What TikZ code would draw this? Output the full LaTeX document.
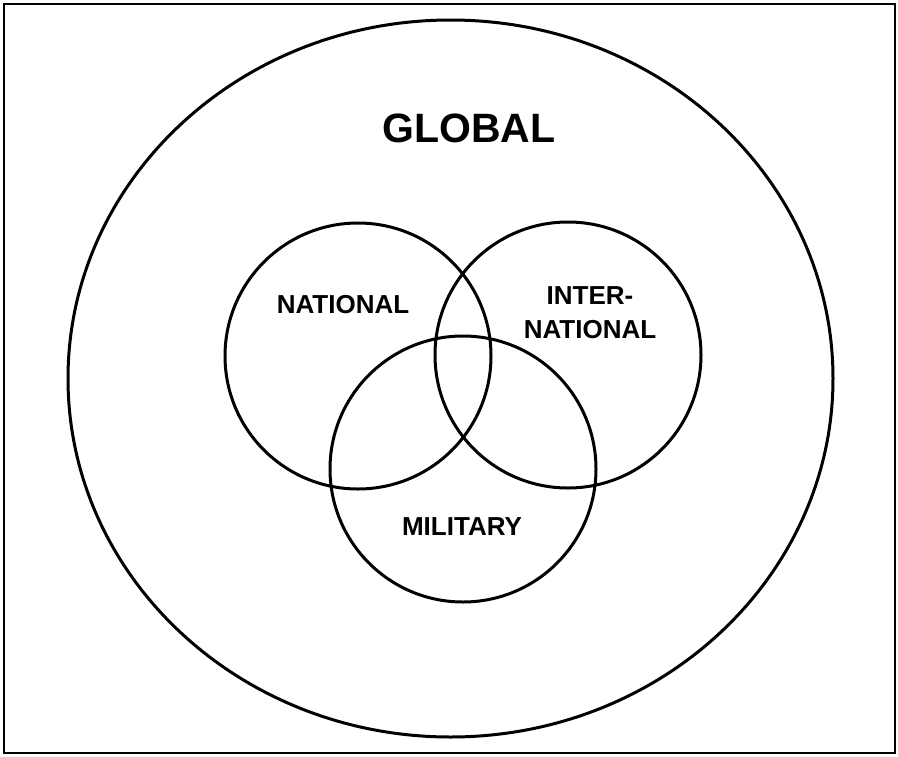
\documentclass[tikz,border=0pt]{standalone}
\usepackage{fontspec}
\setmainfont{Liberation Sans}
\usetikzlibrary{shapes.geometric}
\begin{document}
\begin{tikzpicture}[x=1pt,y=-1pt,
  ring/.style={draw, line width=3pt, inner sep=0pt},
  disc/.style={ring, circle, minimum size=266pt},
  lbl/.style={font=\bfseries\fontsize{26}{34}\selectfont, align=center, inner sep=0pt},
  title/.style={font=\bfseries\fontsize{41}{48}\selectfont, inner sep=0pt}]
\useasboundingbox (0,0) rectangle (898,756);
% frame
\node[draw, line width=2.5pt, inner sep=0pt, minimum width=891pt, minimum height=749pt] (frame) at (449.5,378.5) {};
% outer region
\node[ring, ellipse, minimum width=765pt, minimum height=717pt] (global) at (450.5,378.5) {};
% three overlapping sets
\node[disc] (national) at (358,356) {};
\node[disc] (inter) at (568,355) {};
\node[disc] (military) at (463,469) {};
% labels
\node[title] (tGlobal) at (469,128) {GLOBAL};
\node[lbl] (tNational) at (343,305) {NATIONAL};
\node[lbl] (tInter) at (590,313) {INTER-\\NATIONAL};
\node[lbl] (tMilitary) at (462,527) {MILITARY};
\end{tikzpicture}
\end{document}
